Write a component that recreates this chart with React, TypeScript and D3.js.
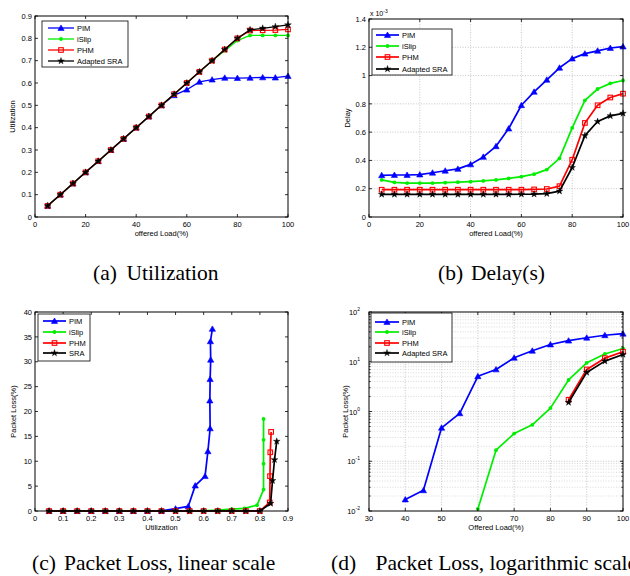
import React from 'react';
import * as d3 from 'd3';

const LOAD = [5, 10, 15, 20, 25, 30, 35, 40, 45, 50, 55, 60, 65, 70, 75, 80, 85, 90, 95, 100];

const UTIL_PIM = [0.05, 0.1, 0.15, 0.2, 0.25, 0.3, 0.35, 0.4, 0.45, 0.5, 0.545, 0.57, 0.605, 0.615, 0.623, 0.622, 0.623, 0.625, 0.624, 0.631];
const UTIL_ISLIP = [0.05, 0.1, 0.15, 0.2, 0.25, 0.3, 0.35, 0.4, 0.45, 0.5, 0.55, 0.6, 0.65, 0.7, 0.745, 0.79, 0.813, 0.813, 0.813, 0.813];
const UTIL_PHM = [0.05, 0.1, 0.15, 0.2, 0.25, 0.3, 0.35, 0.4, 0.45, 0.5, 0.55, 0.6, 0.65, 0.7, 0.75, 0.8, 0.835, 0.836, 0.837, 0.84];
const UTIL_SRA = [0.05, 0.1, 0.15, 0.2, 0.25, 0.3, 0.35, 0.4, 0.45, 0.5, 0.55, 0.6, 0.65, 0.7, 0.75, 0.8, 0.838, 0.845, 0.852, 0.86];

// delay in units of 1e-3 s
const DELAY_PIM = [0.295, 0.297, 0.297, 0.3, 0.313, 0.327, 0.34, 0.372, 0.425, 0.5, 0.625, 0.79, 0.885, 0.97, 1.055, 1.12, 1.155, 1.175, 1.195, 1.205];
const DELAY_ISLIP = [0.262, 0.245, 0.24, 0.24, 0.24, 0.243, 0.246, 0.25, 0.255, 0.262, 0.273, 0.285, 0.303, 0.335, 0.415, 0.63, 0.825, 0.905, 0.945, 0.965];
const DELAY_PHM = [0.193, 0.193, 0.193, 0.193, 0.193, 0.193, 0.193, 0.193, 0.193, 0.193, 0.193, 0.193, 0.195, 0.198, 0.218, 0.405, 0.665, 0.79, 0.845, 0.872];
const DELAY_SRA = [0.16, 0.16, 0.16, 0.16, 0.16, 0.16, 0.16, 0.16, 0.16, 0.16, 0.16, 0.161, 0.162, 0.165, 0.183, 0.35, 0.575, 0.675, 0.715, 0.733];

// packet loss in %
const LOSS_PIM = [0, 0, 0, 0, 0, 0, 0, 0.017, 0.026, 0.47, 0.92, 5.1, 7.0, 12.0, 16.6, 22.2, 26.5, 30.4, 34.1, 36.6];
const LOSS_ISLIP = [0, 0, 0, 0, 0, 0, 0, 0, 0, 0, 0, 0.011, 0.167, 0.36, 0.54, 1.17, 4.3, 9.5, 14.3, 18.5];
const LOSS_PHM = [0, 0, 0, 0, 0, 0, 0, 0, 0, 0, 0, 0, 0, 0, 0, 0, 1.72, 7.0, 11.8, 15.9];
const LOSS_SRA = [0, 0, 0, 0, 0, 0, 0, 0, 0, 0, 0, 0, 0, 0, 0, 0, 1.52, 6.1, 10.3, 14.0];

const LEGEND_A = ['PIM', 'iSlip', 'PHM', 'Adapted SRA'];
const LEGEND_C = ['PIM', 'iSlip', 'PHM', 'SRA'];

const TICKS_LOAD = [0, 20, 40, 60, 80, 100];
const TICKS_UTIL_Y = [0, 0.1, 0.2, 0.3, 0.4, 0.5, 0.6, 0.7, 0.8, 0.9];
const TICKS_DELAY = [0, 0.2, 0.4, 0.6, 0.8, 1, 1.2, 1.4];
const TICKS_UTIL_X = [0, 0.1, 0.2, 0.3, 0.4, 0.5, 0.6, 0.7, 0.8, 0.9];
const TICKS_LOSS = [0, 5, 10, 15, 20, 25, 30, 35, 40];
const TICKS_LOAD_D = [30, 40, 50, 60, 70, 80, 90, 100];
const TICKS_LOG = [0.01, 0.1, 1, 10, 100];

const COLORS = ['#0000ff', '#00ee00', '#ff0000', '#000000'];
const MARKERS = ['tri', 'circle', 'square', 'star'];

const SANS = 'Liberation Sans, Arial, Helvetica, sans-serif';
const SERIF = 'Liberation Serif, Times New Roman, serif';

function Marker({ m, color, x, y }: any) {
  if (m === 'tri') {
    const p = d3.symbol(d3.symbolTriangle, 17)();
    return <path d={p!} transform={`translate(${x},${y + 0.6})`} fill={color} stroke={color} strokeWidth={0.6} />;
  }
  if (m === 'circle') return <circle cx={x} cy={y} r={1.9} fill={color} />;
  if (m === 'square') return <rect x={x - 2.3} y={y - 2.3} width={4.6} height={4.6} fill="none" stroke={color} strokeWidth={1.1} />;
  const p = d3.symbol(d3.symbolStar, 14)();
  return <path d={p!} transform={`translate(${x},${y})`} fill={color} stroke={color} strokeWidth={0.4} />;
}

function Panel(props: any) {
  const { L, R, T, B, xDomain, yDomain, log, xTicks, yTicks, xFmt, yFmt, grid, series, legend, xLabel, yLabel, xLabelY, yLabelX, lw } = props;
  const x = d3.scaleLinear().domain(xDomain).range([L, R]);
  const y: any = log ? d3.scaleLog().domain(yDomain).range([B, T]) : d3.scaleLinear().domain(yDomain).range([B, T]);
  const minor = log ? (y.ticks() as number[]).filter((v: number) => !TICKS_LOG.includes(v)) : [];
  const line = d3.line<[number, number]>().x((d) => x(d[0])).y((d) => y(d[1]));
  const tl = 3;
  return (
    <g>
      {grid && (
        <g stroke="#b8b8b8" strokeWidth={0.8} strokeDasharray="1,1.6">
          {xTicks.filter((v: number) => x(v) > L + 1 && x(v) < R - 1).map((v: number) => (
            <line key={'gx' + v} x1={x(v)} x2={x(v)} y1={T} y2={B} />
          ))}
          {yTicks.filter((v: number) => y(v) > T + 1 && y(v) < B - 1).map((v: number) => (
            <line key={'gy' + v} x1={L} x2={R} y1={y(v)} y2={y(v)} />
          ))}
          {minor.map((v: number) => (
            <line key={'gm' + v} x1={L} x2={R} y1={y(v)} y2={y(v)} stroke="#d0d0d0" />
          ))}
        </g>
      )}
      {series.map((s: any, i: number) => (
        <g key={'s' + i}>
          <path d={line(s.pts)!} fill="none" stroke={s.color} strokeWidth={lw} strokeLinejoin="round" />
          {s.pts.map((p: [number, number], j: number) => (
            <Marker key={j} m={s.marker} color={s.color} x={x(p[0])} y={y(p[1])} />
          ))}
        </g>
      ))}
      <rect x={L} y={T} width={R - L} height={B - T} fill="none" stroke="#000" strokeWidth={1} />
      <g stroke="#000" strokeWidth={0.8}>
        {xTicks.map((v: number) => (
          <g key={'tx' + v}>
            <line x1={x(v)} x2={x(v)} y1={B} y2={B - tl} />
            <line x1={x(v)} x2={x(v)} y1={T} y2={T + tl} />
          </g>
        ))}
        {yTicks.map((v: number) => (
          <g key={'ty' + v}>
            <line x1={L} x2={L + tl} y1={y(v)} y2={y(v)} />
            <line x1={R} x2={R - tl} y1={y(v)} y2={y(v)} />
          </g>
        ))}
        {minor.map((v: number) => (
          <g key={'tm' + v}>
            <line x1={L} x2={L + 1.6} y1={y(v)} y2={y(v)} />
            <line x1={R} x2={R - 1.6} y1={y(v)} y2={y(v)} />
          </g>
        ))}
      </g>
      <g fontFamily={SANS} fontSize={7.5} fill="#000">
        {xTicks.map((v: number) => (
          <text key={'lx' + v} x={x(v)} y={B + 10} textAnchor="middle">{xFmt(v)}</text>
        ))}
        {yTicks.map((v: number) =>
          log ? (
            <text key={'ly' + v} x={L - 9} y={y(v) + 3} textAnchor="end">
              10
              <tspan fontSize={5} dy={-4}>{String(Math.round(Math.log10(v)))}</tspan>
            </text>
          ) : (
            <text key={'ly' + v} x={L - 3} y={y(v) + 2.7} textAnchor="end">{yFmt(v)}</text>
          )
        )}
        <text x={(L + R) / 2} y={xLabelY} textAnchor="middle">{xLabel}</text>
        <text transform={`translate(${yLabelX},${(T + B) / 2}) rotate(-90)`} textAnchor="middle">{yLabel}</text>
      </g>
      <g>
        <rect x={legend.x0} y={legend.y0} width={legend.x1 - legend.x0} height={legend.y1 - legend.y0} fill="#fff" stroke="#000" strokeWidth={0.8} />
        {legend.labels.map((lab: string, i: number) => {
          const ry = legend.rows[i];
          return (
            <g key={'lg' + i}>
              <line x1={legend.lx0} x2={legend.lx1} y1={ry} y2={ry} stroke={COLORS[i]} strokeWidth={lw} />
              <Marker m={MARKERS[i]} color={COLORS[i]} x={(legend.lx0 + legend.lx1) / 2} y={ry} />
              <text x={legend.tx} y={ry + 2.7} fontFamily={SANS} fontSize={7.5}>{lab}</text>
            </g>
          );
        })}
      </g>
    </g>
  );
}

const zipPts = (xs: number[], ys: number[], keep?: (v: number) => boolean) =>
  xs.map((v, i) => [v, ys[i]] as [number, number]).filter((p) => (keep ? keep(p[1]) : true));

export default function App() {
  const utils = [UTIL_PIM, UTIL_ISLIP, UTIL_PHM, UTIL_SRA];
  const delays = [DELAY_PIM, DELAY_ISLIP, DELAY_PHM, DELAY_SRA];
  const losses = [LOSS_PIM, LOSS_ISLIP, LOSS_PHM, LOSS_SRA];
  const mk = (pts: [number, number][][]) => pts.map((p, i) => ({ pts: p, color: COLORS[i], marker: MARKERS[i] }));
  const fmt1 = (v: number) => (v === 0 ? '0' : d3.format('.1f')(v));
  const fmtInt = (v: number) => String(v);
  const fmtD = (v: number) => (v === 0 || v === 1 ? String(v) : d3.format('.1f')(v));
  return (
    <svg width={630} height={576} style={{ position: 'absolute', left: 0, top: 0, background: '#fff' }}>
      <rect width={630} height={576} fill="#fff" />
      <Panel
        L={35} R={288} T={16} B={217}
        xDomain={[0, 100]} yDomain={[0, 0.9]}
        xTicks={TICKS_LOAD} yTicks={TICKS_UTIL_Y} xFmt={fmtInt} yFmt={fmt1}
        series={mk(utils.map((u) => zipPts(LOAD, u)))}
        legend={{ x0: 42, y0: 21, x1: 128, y1: 67, rows: [28, 39, 50, 61], lx0: 48, lx1: 74, tx: 77, labels: LEGEND_A }}
        xLabel="offered Load(%)" yLabel="Utilization" xLabelY={236} yLabelX={15} lw={1.3}
      />
      <Panel
        L={369} R={623} T={19} B={217}
        xDomain={[0, 100]} yDomain={[0, 1.4]}
        xTicks={TICKS_LOAD} yTicks={TICKS_DELAY} xFmt={fmtInt} yFmt={fmtD} grid
        series={mk(delays.map((dl) => zipPts(LOAD, dl)))}
        legend={{ x0: 372, y0: 29, x1: 452, y1: 75, rows: [35, 46, 57, 69], lx0: 376, lx1: 399, tx: 402, labels: LEGEND_A }}
        xLabel="offered Load(%)" yLabel="Delay" xLabelY={236} yLabelX={350} lw={1.7}
      />
      <text x={370} y={16} fontFamily={SANS} fontSize={7}>
        x 10<tspan fontSize={5} dy={-3.5}>-3</tspan>
      </text>
      <Panel
        L={35} R={288} T={312} B={511}
        xDomain={[0, 0.9]} yDomain={[0, 40]}
        xTicks={TICKS_UTIL_X} yTicks={TICKS_LOSS} xFmt={fmt1} yFmt={fmtInt}
        series={mk(utils.map((u, i) => zipPts(u, losses[i])))}
        legend={{ x0: 38, y0: 314, x1: 90, y1: 361, rows: [321, 332, 343, 353], lx0: 43, lx1: 66, tx: 69, labels: LEGEND_C }}
        xLabel="Utilization" yLabel="Packet Loss(%)" xLabelY={530} yLabelX={16} lw={1.7}
      />
      <Panel
        L={369} R={623} T={312} B={511} log
        xDomain={[30, 100]} yDomain={[0.01, 100]}
        xTicks={TICKS_LOAD_D} yTicks={TICKS_LOG} xFmt={fmtInt} yFmt={fmtInt} grid
        series={mk(losses.map((ls) => zipPts(LOAD, ls, (v) => v > 0)))}
        legend={{ x0: 371, y0: 313, x1: 452, y1: 362, rows: [322, 332, 343, 353], lx0: 375, lx1: 399, tx: 402, labels: LEGEND_A }}
        xLabel="Offered Load(%)" yLabel="Packet Loss(%)" xLabelY={530} yLabelX={348} lw={1.7}
      />
      <g fontFamily={SERIF} fontSize={21.5} fill="#000">
        <text x={93} y={280}>(a)</text>
        <text x={126.5} y={280}>Utilization</text>
        <text x={438} y={280}>(b)</text>
        <text x={471} y={280}>Delay(s)</text>
        <text x={32} y={570}>(c)</text>
        <text x={64} y={570}>Packet Loss, linear scale</text>
        <text x={331} y={570}>(d)</text>
        <text x={375.5} y={570}>Packet Loss, logarithmic scale</text>
      </g>
    </svg>
  );
}
